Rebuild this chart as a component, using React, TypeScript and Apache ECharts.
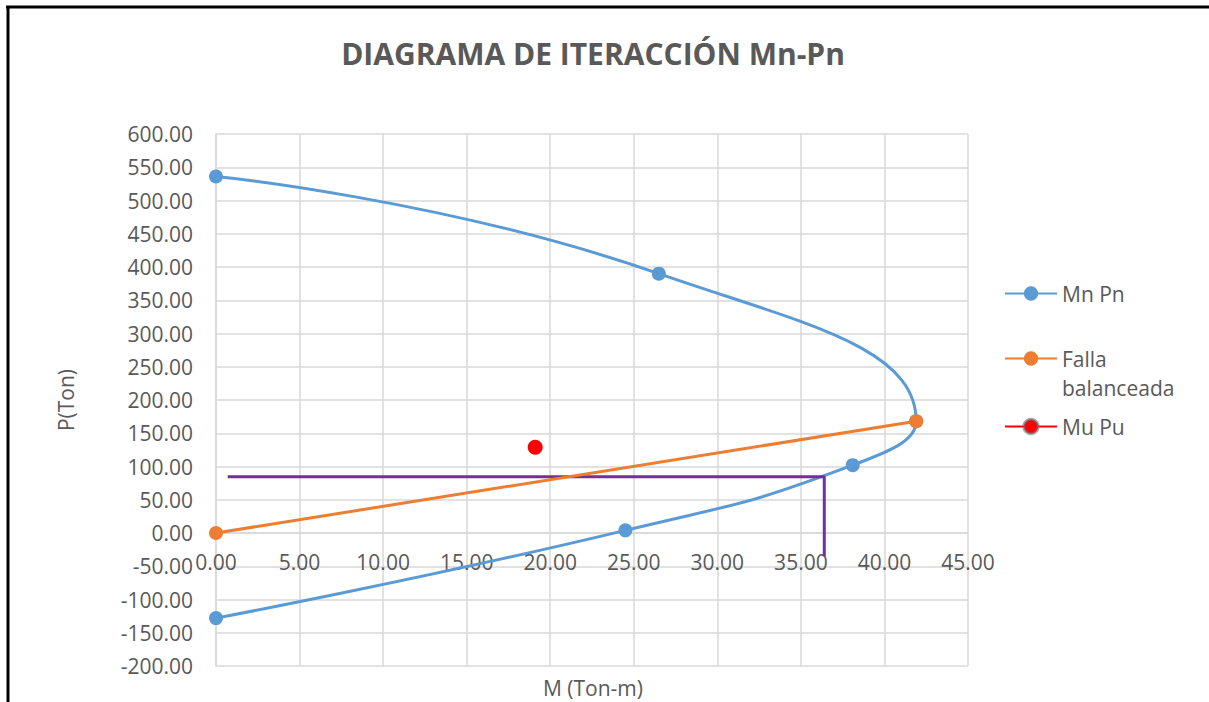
import React, { useEffect, useRef } from "react";
import * as echarts from "echarts";

const mnM = [0, 26.5, 41.9, 38.1, 24.5, 0];
const mnP = [536, 390, 168, 102, 4, -128];
const fallaM = [0, 41.9];
const fallaP = [0, 168];
const muM = [19.1];
const muP = [129];
const limM = [0.7, 36.4, 36.4];
const limP = [84.5, 84.5, -35.5];

const X_MIN = 0;
const X_MAX = 45;
const X_STEP = 5;
const Y_MIN = -200;
const Y_MAX = 600;
const Y_STEP = 50;

const pairs = (xs: number[], ys: number[]) => xs.map((x, i) => [x, ys[i]]);

const FONT = "'Open Sans', 'Noto Sans', sans-serif";
const GRAY = "#595959";

const GRID_TOP = 134;
const GRID_BOTTOM = 36;
const H = 702;

export default function App() {
  const ref = useRef<HTMLDivElement>(null);
  useEffect(() => {
    if (!ref.current) return;
    const chart = echarts.init(ref.current, undefined, { renderer: "svg" });
    const gridH = H - GRID_TOP - GRID_BOTTOM;
    // shift the x axis up so it crosses the y axis at P = 0
    const zeroOffset = -((0 - Y_MIN) / (Y_MAX - Y_MIN)) * gridH;
    const legendBase = {
      orient: "vertical" as const,
      left: 1004,
      padding: 0,
      itemWidth: 52,
      itemHeight: 18,
      textStyle: { fontFamily: FONT, fontSize: 21, color: GRAY },
      selectedMode: false,
    };
    chart.setOption({
      animation: false,
      backgroundColor: "#ffffff",
      title: {
        text: "DIAGRAMA DE ITERACCIÓN Mn-Pn",
        left: 588,
        textAlign: "center",
        top: 33,
        textStyle: { fontFamily: FONT, fontSize: 30, fontWeight: "bold", color: GRAY },
      },
      grid: {
        left: 216,
        right: 241,
        top: GRID_TOP,
        bottom: GRID_BOTTOM,
        containLabel: false,
        outerBoundsMode: "none",
      },
      legend: [
        { ...legendBase, top: 283, data: ["Mn Pn"] },
        { ...legendBase, top: 348, data: ["Falla balanceada"], formatter: () => "Falla" },
        {
          ...legendBase,
          top: 416,
          data: [
            {
              name: "Mu Pu",
              itemStyle: { borderColor: "rgba(110,110,110,0.6)", borderWidth: 3 },
            },
          ],
        },
      ],
      graphic: [
        {
          type: "line",
          shape: { x1: 6, y1: 7, x2: 1209, y2: 7 },
          style: { stroke: "#000", lineWidth: 3 },
        },
        {
          type: "line",
          shape: { x1: 8, y1: 6, x2: 8, y2: 702 },
          style: { stroke: "#000", lineWidth: 3 },
        },
        {
          type: "text",
          left: 1062,
          top: 377,
          style: { text: "balanceada", fontFamily: FONT, fontSize: 21, fill: GRAY },
        },
        {
          type: "text",
          x: 593,
          y: 688,
          style: {
            text: "M (Ton-m)",
            fontFamily: FONT,
            fontSize: 21,
            fill: GRAY,
            align: "center",
            verticalAlign: "middle",
          },
        },
      ],
      xAxis: {
        type: "value",
        min: X_MIN,
        max: X_MAX,
        interval: X_STEP,
        offset: zeroOffset,
        axisLine: { onZero: false, lineStyle: { color: "#D9D9D9", width: 1.5 } },
        axisTick: { show: false },
        axisLabel: {
          margin: 18,
          fontFamily: FONT,
          fontSize: 21,
          color: GRAY,
          formatter: (v: number) => v.toFixed(2),
        },
        splitLine: { show: true, lineStyle: { color: "#D9D9D9", width: 1.5 } },
      },
      yAxis: {
        type: "value",
        min: Y_MIN,
        max: Y_MAX,
        interval: Y_STEP,
        name: "P(Ton)",
        nameLocation: "middle",
        nameGap: 140,
        nameRotate: 90,
        nameTextStyle: { fontFamily: FONT, fontSize: 21, color: GRAY },
        axisLine: { show: true, onZero: false, lineStyle: { color: "#D9D9D9", width: 1.5 } },
        axisTick: { show: false },
        axisLabel: {
          margin: 23,
          fontFamily: FONT,
          fontSize: 21,
          color: GRAY,
          formatter: (v: number) => v.toFixed(2),
        },
        splitLine: { show: true, lineStyle: { color: "#D9D9D9", width: 1.5 } },
      },
      series: [
        {
          name: "Mn Pn",
          type: "line",
          smooth: 0.5,
          data: pairs(mnM, mnP),
          symbol: "circle",
          symbolSize: 14,
          color: "#5B9BD5",
          lineStyle: { color: "#5B9BD5", width: 3 },
          itemStyle: { color: "#5B9BD5" },
          z: 2,
        },
        {
          name: "limite",
          type: "line",
          data: pairs(limM, limP),
          symbol: "none",
          color: "#7030A0",
          lineStyle: { color: "#7030A0", width: 3 },
          z: 3,
        },
        {
          name: "Falla balanceada",
          type: "line",
          data: pairs(fallaM, fallaP),
          symbol: "circle",
          symbolSize: 14,
          color: "#ED7D31",
          lineStyle: { color: "#ED7D31", width: 3 },
          itemStyle: { color: "#ED7D31" },
          z: 4,
        },
        {
          name: "Mu Pu",
          type: "line",
          data: pairs(muM, muP),
          symbol: "circle",
          symbolSize: 15,
          color: "#FF0000",
          lineStyle: { color: "#FF0000", width: 3 },
          itemStyle: { color: "#FF0000" },
          z: 5,
        },
      ],
    });
    return () => chart.dispose();
  }, []);
  return (
    <div
      ref={ref}
      style={{ position: "absolute", left: 0, top: 0, width: 1209, height: 702 }}
    />
  );
}
